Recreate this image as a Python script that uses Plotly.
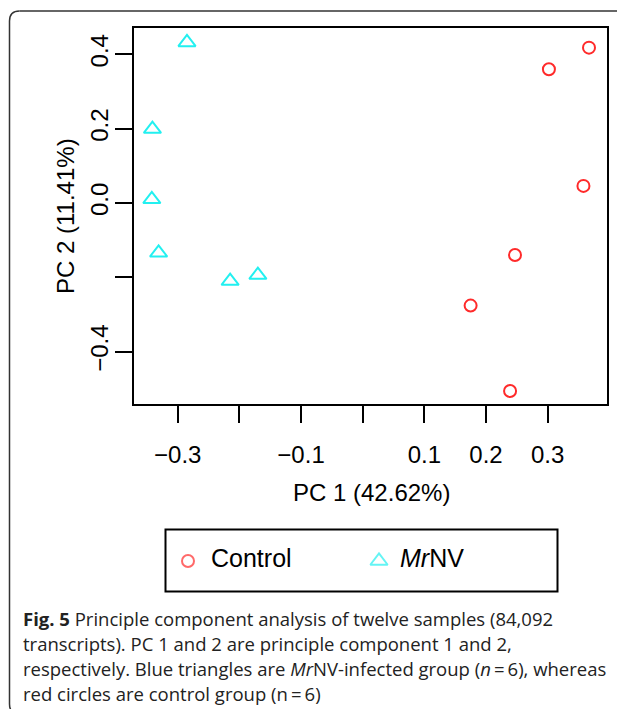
import plotly.graph_objects as go

# ---- data ----
control_pc1 = [0.367, 0.302, 0.358, 0.247, 0.175, 0.239]
control_pc2 = [0.418, 0.360, 0.046, -0.140, -0.276, -0.506]
mrnv_pc1 = [-0.285, -0.341, -0.342, -0.331, -0.215, -0.170]
mrnv_pc2 = [0.432, 0.199, 0.010, -0.134, -0.210, -0.194]

x_tickvals = [-0.3, -0.2, -0.1, 0.0, 0.1, 0.2, 0.3]
x_ticktext = ["\u22120.3", "", "\u22120.1", "", "0.1", "0.2", "0.3"]
y_tickvals = [-0.4, -0.2, 0.0, 0.2, 0.4]
y_ticktext = ["\u22120.4", "", "0.0", "0.2", "0.4"]

x_title = "PC 1 (42.62%)"
y_title = "PC 2 (11.41%)"
legend_labels = ["Control", "<i>Mr</i>NV"]
caption_lines = [
    "<b>Fig. 5</b> Principle component analysis of twelve samples (84,092",
    "transcripts). PC 1 and 2 are principle component 1 and 2,",
    "respectively. Blue triangles are <i>Mr</i>NV-infected group (<i>n</i>\u2009=\u20096), whereas",
    "red circles are control group (n\u2009=\u20096)",
]

# ---- layout geometry (page pixels; the page body adds an 8px offset) ----
OFF = 8
W, H = 625 - 2 * OFF, 717 - 2 * OFF
L, R, T, B = 134, 607, 28, 404
AX_FONT = "Liberation Sans, Arial, sans-serif"
CAP_FONT = "Open Sans, sans-serif"
RED = "#ff2a2a"
CYAN = "#22f0f0"


def fx(x):
    return (x - OFF) / W


def fy(y):
    return 1 - (y - OFF) / H


fig = go.Figure()
fig.add_trace(go.Scatter(
    x=control_pc1, y=control_pc2, mode="markers", name="Control",
    marker=dict(symbol="circle-open", size=12, color=RED, line=dict(width=2, color=RED)),
    showlegend=False))
fig.add_trace(go.Scatter(
    x=mrnv_pc1, y=mrnv_pc2, mode="markers", name="MrNV",
    marker=dict(symbol="triangle-up-open", size=15, color=CYAN, line=dict(width=2, color=CYAN)),
    showlegend=False))

# legend symbols on a full-page pixel axis
fig.add_trace(go.Scatter(
    x=[188, 379], y=[561, 561], xaxis="x2", yaxis="y2", mode="markers",
    marker=dict(symbol=["circle-open", "triangle-up-open"], size=[12, 15],
                color=[RED, CYAN], line=dict(width=2, color=[RED, CYAN])),
    showlegend=False, hoverinfo="skip"))

fig.update_layout(
    width=W, height=H,
    margin=dict(l=0, r=0, t=0, b=0, pad=0),
    paper_bgcolor="white", plot_bgcolor="rgba(0,0,0,0)",
    xaxis=dict(
        domain=[fx(L), fx(R)], anchor="y",
        range=[-0.3709, 0.3962], tickvals=x_tickvals, ticktext=x_ticktext,
        showgrid=False, zeroline=False, showline=True, mirror=True,
        linecolor="black", linewidth=2, ticks="outside", ticklen=17, tickwidth=2,
        tickcolor="black", tickfont=dict(family=AX_FONT, size=24, color="black"),
        ticklabelstandoff=11,
    ),
    yaxis=dict(
        domain=[fy(B), fy(T)], anchor="x",
        range=[-0.5408, 0.4708], tickvals=y_tickvals, ticktext=y_ticktext,
        showgrid=False, zeroline=False, showline=True, mirror=True,
        linecolor="black", linewidth=2, ticks="outside", ticklen=17, tickwidth=2,
        tickcolor="black", tickfont=dict(family=AX_FONT, size=24, color="black"),
        tickangle=-90, ticklabelstandoff=-3,
    ),
    xaxis2=dict(domain=[0, 1], anchor="y2", range=[OFF, OFF + W], visible=False, fixedrange=True),
    yaxis2=dict(domain=[0, 1], anchor="x2", range=[OFF + H, OFF], visible=False, fixedrange=True),
    showlegend=False,
)

shapes = []
# outer rounded frame: top and left edges with rounded corners, open to the right
x0, y0, y1, r = 9.5, 11, 714, 10
xr = OFF + W
frame_line = dict(color="#333333", width=1.5)
shapes.append(dict(type="line", xref="x2", yref="y2", x0=x0 + r, x1=xr, y0=y0, y1=y0, line=frame_line))
shapes.append(dict(type="line", xref="x2", yref="y2", x0=x0, x1=x0, y0=y0 + r, y1=y1 - r, line=frame_line))
shapes.append(dict(type="line", xref="x2", yref="y2", x0=x0 + r, x1=xr, y0=y1, y1=y1, line=frame_line))
shapes.append(dict(type="path", xref="x2", yref="y2",
                   path=f"M {x0 + r} {y0} Q {x0} {y0} {x0} {y0 + r}", line=frame_line))
shapes.append(dict(type="path", xref="x2", yref="y2",
                   path=f"M {x0} {y1 - r} Q {x0} {y1} {x0 + r} {y1}", line=frame_line))
# legend box
shapes.append(dict(type="rect", xref="x2", yref="y2",
                   x0=165.5, x1=557.5, y0=529.5, y1=591.5,
                   line=dict(color="black", width=2)))
fig.update_layout(shapes=shapes)

ann = []
ann.append(dict(text=x_title, xref="x2", yref="y2", x=371, y=492,
                xanchor="center", yanchor="middle", showarrow=False,
                font=dict(family=AX_FONT, size=24, color="black")))
ann.append(dict(text=y_title, xref="x2", yref="y2", x=65, y=216,
                xanchor="center", yanchor="middle", showarrow=False, textangle=-90,
                font=dict(family=AX_FONT, size=24, color="black")))
ann.append(dict(text=legend_labels[0], xref="x2", yref="y2", x=209, y=558,
                xanchor="left", yanchor="middle", showarrow=False,
                font=dict(family=AX_FONT, size=25, color="black")))
ann.append(dict(text=legend_labels[1], xref="x2", yref="y2", x=398, y=558,
                xanchor="left", yanchor="middle", showarrow=False,
                font=dict(family=AX_FONT, size=25, color="black")))
cap_y = [618, 643, 668, 693]
for line, yy in zip(caption_lines, cap_y):
    ann.append(dict(text=line, xref="x2", yref="y2", x=21, y=yy,
                    xanchor="left", yanchor="middle", showarrow=False,
                    font=dict(family=CAP_FONT, size=18.5, color="#222222")))
fig.update_layout(annotations=ann)

fig.write_html("out.html")
